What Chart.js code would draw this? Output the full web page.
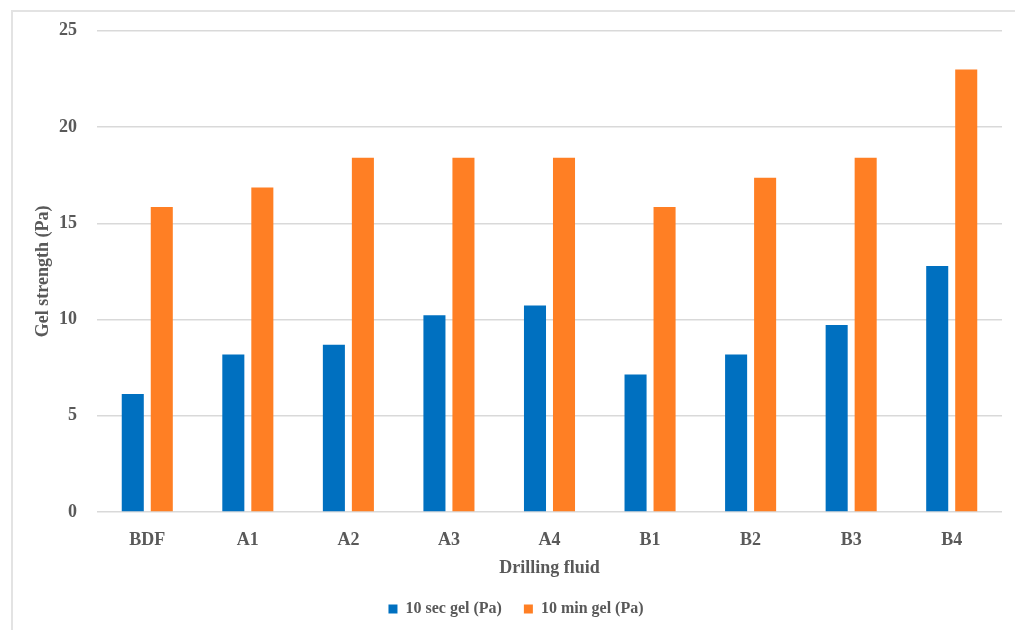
<!DOCTYPE html>
<html>
<head>
<meta charset="utf-8">
<script src="https://cdn.jsdelivr.net/npm/chart.js@4/dist/chart.umd.min.js"></script>
<style>
  html, body { margin: 0; padding: 0; background: #fff; }
  #wrap { position: relative; width: 1015px; height: 630px; }
  #frame { position: absolute; left: 11px; top: 10px; width: 1100px; height: 700px; border-left: 2px solid #e3e3e3; border-top: 2px solid #e3e3e3; }
  canvas { position: absolute; left: 0; top: 0; }
</style>
</head>
<body>
<div id="wrap">
  <div id="frame"></div>
  <canvas id="c" width="1015" height="630"></canvas>
</div>
<script>
const categories = ['BDF', 'A1', 'A2', 'A3', 'A4', 'B1', 'B2', 'B3', 'B4'];
const gel10s = [6.13, 8.18, 8.69, 10.22, 10.73, 7.15, 8.18, 9.71, 12.78];
const gel10m = [15.84, 16.86, 18.40, 18.40, 18.40, 15.84, 17.37, 18.40, 22.99];
const yTicks = [0, 5, 10, 15, 20, 25];

const FONT = '"Liberation Serif", "DejaVu Serif", serif';
const GREY = '#595959';

new Chart(document.getElementById('c'), {
  type: 'bar',
  data: {
    labels: categories,
    datasets: [
      { label: '10 sec gel (Pa)', data: gel10s, backgroundColor: '#0070c0', barPercentage: 0.76, categoryPercentage: 0.577 },
      { label: '10 min gel (Pa)', data: gel10m, backgroundColor: '#ff7f24', barPercentage: 0.76, categoryPercentage: 0.577 }
    ]
  },
  options: {
    responsive: false,
    animation: false,
    layout: { padding: { left: 30, top: 21, right: 13, bottom: 3 } },
    plugins: {
      legend: {
        position: 'bottom',
        labels: {
          boxWidth: 9, boxHeight: 9, padding: 22,
          color: GREY,
          font: { family: FONT, size: 16, weight: 'bold' }
        }
      },
      tooltip: { enabled: false }
    },
    scales: {
      x: {
        afterFit: (s) => { s.height = 67; },
        grid: { display: false },
        border: { display: false },
        ticks: { color: GREY, font: { family: FONT, size: 18, weight: 'bold' }, padding: 10 },
        title: { display: true, text: 'Drilling fluid', color: GREY, font: { family: FONT, size: 18, weight: 'bold' }, padding: { top: 4, bottom: 0 } }
      },
      y: {
        min: 0, max: 25,
        afterBuildTicks: (s) => { s.ticks = yTicks.map(v => ({ value: v })); },
        afterFit: (s) => { s.width = 67; },
        grid: { color: '#d9d9d9', lineWidth: 1.5, drawTicks: false },
        border: { display: false },
        ticks: { color: GREY, font: { family: FONT, size: 18, weight: 'bold' }, padding: 20 },
        title: { display: true, text: 'Gel strength (Pa)', color: GREY, font: { family: FONT, size: 18, weight: 'bold' }, padding: { top: 3, bottom: 4 } }
      }
    }
  }
});
</script>
</body>
</html>
